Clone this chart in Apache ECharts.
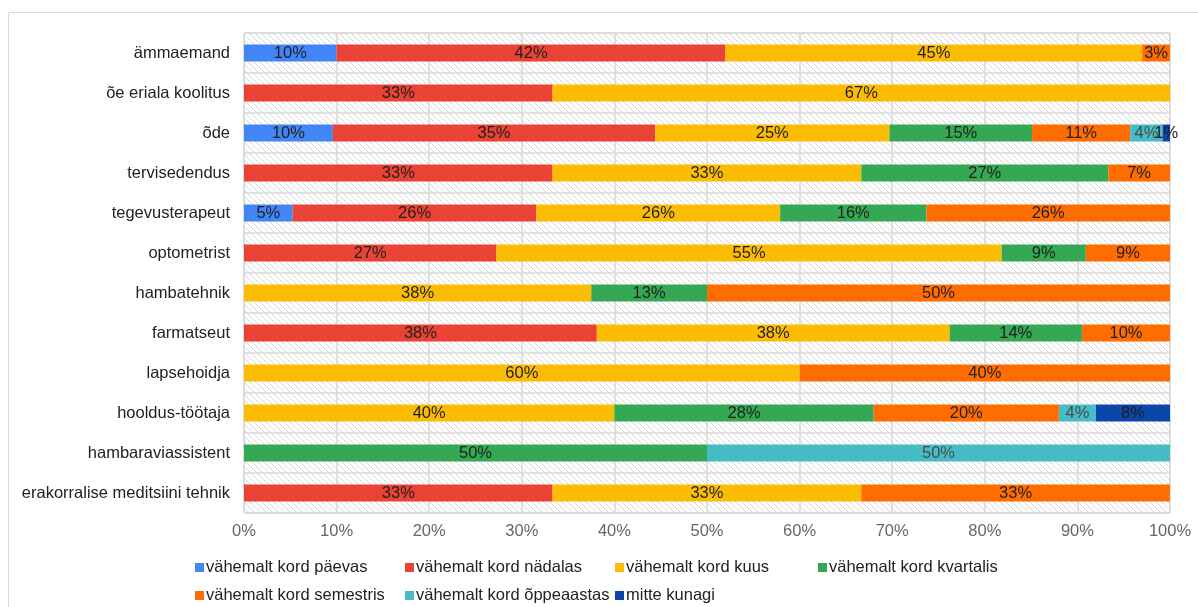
<!DOCTYPE html>
<html>
<head>
<meta charset="utf-8">
<script src="https://cdn.jsdelivr.net/npm/echarts@6/dist/echarts.min.js"></script>
<style>
  html, body { margin: 0; padding: 0; background: #fff; }
  #chart { width: 1198px; height: 607px; }
</style>
</head>
<body>
<div id="chart"></div>
<script>
// Occupations, top to bottom
const categories = [
  'ämmaemand', 'õe eriala koolitus', 'õde', 'tervisedendus', 'tegevusterapeut',
  'optometrist', 'hambatehnik', 'farmatseut', 'lapsehoidja', 'hooldus-töötaja',
  'hambaraviassistent', 'erakorralise meditsiini tehnik'
];

// Share of respondents (%) per frequency, one value per occupation (null = none)
const paevas     = [10, null, 9.6, null, 5.26, null, null, null, null, null, null, null];
const nadalas    = [42, 33.33, 34.8, 33.33, 26.32, 27.27, null, 38.1, null, null, null, 33.33];
const kuus       = [45, 66.67, 25.3, 33.33, 26.32, 54.55, 37.5, 38.1, 60, 40, null, 33.33];
const kvartalis  = [null, null, 15.4, 26.67, 15.79, 9.09, 12.5, 14.29, null, 28, 50, null];
const semestris  = [3, null, 10.6, 6.67, 26.32, 9.09, 50, 9.52, 40, 20, null, 33.33];
const oppeaastas = [null, null, 3.5, null, null, null, null, null, null, 4, 50, null];
const kunagi     = [null, null, 0.8, null, null, null, null, null, null, 8, null, null];

const seriesNames = [
  'vähemalt kord päevas', 'vähemalt kord nädalas', 'vähemalt kord kuus',
  'vähemalt kord kvartalis', 'vähemalt kord semestris', 'vähemalt kord õppeaastas',
  'mitte kunagi'
];
const seriesData = [paevas, nadalas, kuus, kvartalis, semestris, oppeaastas, kunagi];
const colors = ['#4285F4', '#EA4335', '#FBBC04', '#34A853', '#FF6D01', '#46BDC6', '#0B47AA'];
const labelColors = ['#1f1f1f', '#1f1f1f', '#1f1f1f', '#1f1f1f', '#1f1f1f', '#4a4a4a', '#1f1f1f'];

const xTicks = [0, 10, 20, 30, 40, 50, 60, 70, 80, 90, 100];

const FONT = '"Liberation Sans", Arial, sans-serif';
const FS = 16.5;

// diagonal hatch tile for the plot background
function hatchTile() {
  const size = 6;
  const c = document.createElement('canvas');
  c.width = size; c.height = size;
  const g = c.getContext('2d');
  g.fillStyle = '#ffffff';
  g.fillRect(0, 0, size, size);
  g.strokeStyle = '#d4d4d4';
  g.lineWidth = 1;
  for (const off of [-size, 0, size]) {
    g.beginPath();
    g.moveTo(off, 0);
    g.lineTo(off + size, size);
    g.stroke();
  }
  return c;
}

const chart = echarts.init(document.getElementById('chart'), null, { renderer: 'canvas' });

const legendPos = [
  [190, 554], [400, 554], [610, 554], [813, 554],
  [190, 582], [400, 582], [610, 582]
];

const option = {
  animation: false,
  backgroundColor: '#ffffff',
  color: colors,
  textStyle: { fontFamily: FONT },
  graphic: [{
    type: 'rect',
    shape: { x: 8.5, y: 12.5, width: 1250, height: 700 },
    style: { fill: 'none', stroke: '#d9d9d9', lineWidth: 1 },
    silent: true, z: -10
  }],
  grid: {
    left: 244, right: 28, top: 33, bottom: 94,
    show: true,
    backgroundColor: { image: hatchTile(), repeat: 'repeat' },
    borderColor: '#d9d9d9', borderWidth: 1
  },
  legend: legendPos.map((p, i) => ({
    data: [seriesNames[i]],
    left: p[0], top: p[1],
    icon: 'rect', itemWidth: 9, itemHeight: 9, itemGap: 0,
    selectedMode: false,
    textStyle: { fontFamily: FONT, fontSize: FS, color: '#222', padding: [0, 0, 0, -3] }
  })),
  xAxis: {
    type: 'value', min: 0, max: 100, interval: 10,
    axisLine: { show: false }, axisTick: { show: false },
    splitLine: { show: true, lineStyle: { color: '#d9d9d9', width: 1.5 } },
    axisLabel: {
      margin: 10, fontFamily: FONT, fontSize: FS, color: '#666',
      formatter: v => xTicks.includes(v) ? v + '%' : ''
    }
  },
  yAxis: {
    type: 'category', data: categories, inverse: true,
    axisLine: { show: false }, axisTick: { show: false },
    splitLine: { show: true, lineStyle: { color: '#d9d9d9', width: 1.5 } },
    axisLabel: { margin: 14, fontFamily: FONT, fontSize: FS, color: '#222' }
  },
  series: seriesNames.map((name, i) => ({
    name, type: 'bar', stack: 'total', barWidth: 17,
    data: seriesData[i],
    itemStyle: { color: colors[i] },
    label: {
      show: true, position: 'inside', fontFamily: FONT, fontSize: FS,
      color: labelColors[i],
      formatter: p => (p.value == null ? '' : Math.round(p.value) + '%')
    }
  }))
};

chart.setOption(option);
</script>
</body>
</html>
